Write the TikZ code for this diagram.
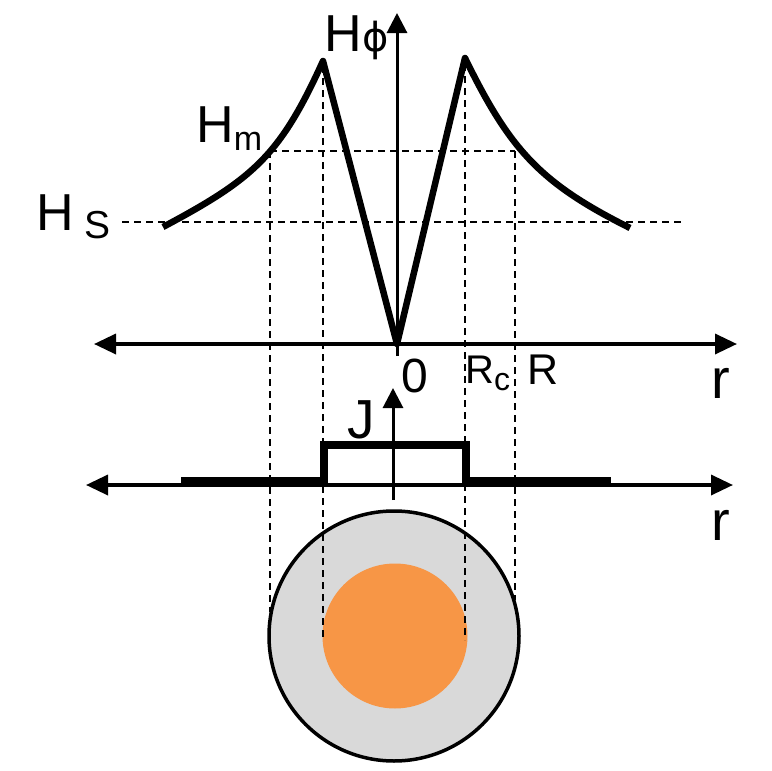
\documentclass[tikz,border=0pt]{standalone}
\usepackage{fontspec}
\setmainfont{Liberation Sans}
\newfontfamily\phifont{DejaVu Sans}
\usetikzlibrary{arrows.meta}
\newcommand\fsz[1]{\fontsize{#1}{#1}\selectfont}
\definecolor{coreorange}{RGB}{247,150,70}
\definecolor{shellgray}{RGB}{217,217,217}
\begin{document}
\begin{tikzpicture}[x=1pt,y=-1pt,
  axis/.style={line width=3pt,-{Triangle[length=20pt,width=20pt]}},
  biaxis/.style={line width=3.5pt,{Triangle[length=22pt,width=20pt]}-{Triangle[length=22pt,width=20pt]}},
  guide/.style={line width=1.5pt,dash pattern=on 7pt off 5pt},
  curve/.style={line width=6.5pt,line join=round},
  lbl/.style={inner sep=0pt,text=black}]
\useasboundingbox (0,0) rectangle (772,771);
% cross-section
\node[circle,draw,line width=3.5pt,fill=shellgray,minimum size=250pt,inner sep=0] (shell) at (394,636) {};
\node[circle,fill=coreorange,minimum size=145pt,inner sep=0] (core) at (395,636) {};
% key points
\coordinate (o) at (397,344);
\coordinate (lp) at (323,61);
\coordinate (rp) at (465,58);
\coordinate (le) at (163,227);
\coordinate (re) at (630,228);
\coordinate (hmL) at (270,151);
\coordinate (hmR) at (515,151);
% guides
\draw[guide] (122,222) -- (681,222);
\draw[guide] (hmL) -- (hmR);
\draw[guide] (hmL) -- (270,612);
\draw[guide] (hmR) -- (515,600);
\draw[guide] (323,66) -- (323,640);
\draw[guide] (465,64) -- (465,640);
% H axis
\draw[biaxis] (94,344) -- (737,344);
\draw[axis] (397,356) -- (397,13);
% H profile
\draw[curve] (le) .. controls (253,179) and (280,156) .. (lp)
  -- (o) -- (rp) .. controls (510,150) and (540,183) .. (re);
% J axis
\draw[biaxis] (86,485) -- (733,485);
\draw[axis] (393,500) -- (393,388);
% J profile
\fill (181,477) rectangle (324,487);
\fill (466,477) rectangle (611,487);
\draw[line width=8pt,line join=miter] (324,487) -- (324,445) -- (466,445) -- (466,487);
% labels
\node[lbl,anchor=base west] (hphi) at (324,52) {\fsz{52}H\hspace{1pt}{\phifont\fsz{40}ϕ}};
\node[lbl,anchor=base west] (hm) at (196,142) {\fsz{52}H\hspace{0pt}\raisebox{-8pt}{\fsz{34}m}};
\node[lbl,anchor=base west] (hs) at (36,230) {\fsz{52}H\hspace{11pt}\raisebox{-8pt}{\fsz{39}S}};
\node[lbl,anchor=base] (zero) at (415,392) {\fsz{48}0};
\node[lbl,anchor=base west] (rc) at (465,383) {\fsz{40}R\raisebox{-7pt}{\fsz{32}c}};
\node[lbl,anchor=base west] (rr) at (527,384) {\fsz{43}R};
\node[lbl,anchor=base] (r1) at (721,398) {\fsz{56}r};
\node[lbl,anchor=base] (jj) at (361,438) {\fsz{55}J};
\node[lbl,anchor=base] (r2) at (721,540) {\fsz{56}r};
\end{tikzpicture}
\end{document}
